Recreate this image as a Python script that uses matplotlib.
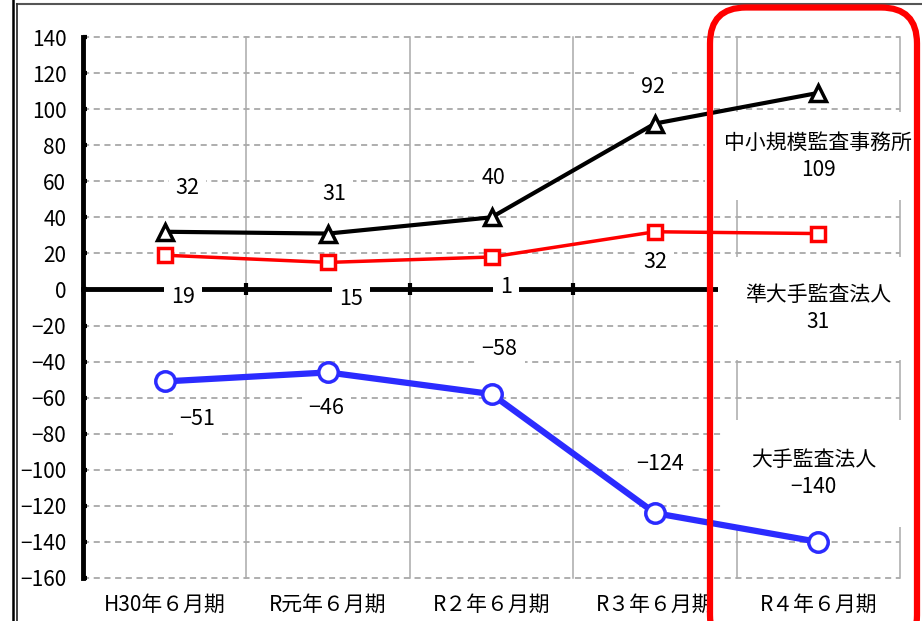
import matplotlib
matplotlib.use("Agg")
import matplotlib.pyplot as plt
from matplotlib.patches import FancyBboxPatch
from matplotlib.lines import Line2D

plt.rcParams['font.family'] = ['Noto Sans CJK JP', 'DejaVu Sans']

categories = ['H30年６月期', 'R元年６月期', 'R２年６月期', 'R３年６月期', 'R４年６月期']
small = [32, 31, 40, 92, 109]      # 中小規模監査事務所
mid = [19, 15, 18, 32, 31]         # 準大手監査法人
big = [-51, -46, -58, -124, -140]  # 大手監査法人
small_labels = ['32', '31', '40', '92']
mid_labels = ['19', '15', '1', '32']
big_labels = ['−51', '−46', '−58', '−124']
series_names = ['中小規模監査事務所', '準大手監査法人', '大手監査法人']
last_labels = ['109', '31', '−140']

fig = plt.figure(figsize=(9.22, 6.21), dpi=100)
ax = fig.add_axes([83/922, 43/621, 817/922, 541/621])

x = list(range(len(categories)))
ax.set_xlim(-0.5, len(categories) - 0.5)
ax.set_ylim(-160, 140)

# grid
for yv in range(-160, 141, 20):
    ax.axhline(yv, color='#999999', lw=1.1, ls=(0, (4, 3)), zorder=1, clip_on=False)
for xv in [0.5, 1.5, 2.5, 3.5, 4.5]:
    ax.axvline(xv, color='#aaaaaa', lw=1.1, zorder=1, clip_on=False)

# spines
for s in ['top', 'right']:
    ax.spines[s].set_visible(False)
ax.spines['left'].set_linewidth(3.5)
ax.spines['bottom'].set_position(('data', 0))
ax.spines['bottom'].set_linewidth(3.5)
ax.spines['bottom'].set_zorder(2)
ax.set_yticks(range(-160, 141, 20))
ax.tick_params(axis='y', direction='in', length=3, width=3, pad=12, labelsize=15)
ax.set_xticks([0.5, 1.5, 2.5, 3.5])
ax.set_xticklabels([])
ax.tick_params(axis='x', direction='inout', length=9, width=3)

for i, c in enumerate(categories):
    ax.text(i, -0.05, c, transform=ax.get_xaxis_transform(), ha='center', va='center', fontsize=15)

# lines
ax.plot(x, small, color='black', lw=3, marker='^', ms=11, mfc='white', mec='black', mew=2.5, zorder=5)
ax.plot(x, mid, color='red', lw=2.5, marker='s', ms=10, mfc='white', mec='red', mew=2.5, zorder=5)
ax.plot(x, big, color='#2b2bff', lw=4.5, marker='o', ms=14, mfc='white', mec='#2b2bff', mew=2.5, zorder=5)

box = dict(facecolor='white', edgecolor='none', pad=5)
small_pos = [(0.14, 24.5), (0.04, 22), (0.01, 22), (-0.01, 20)]
mid_pos = [(0.11, -23), (0.14, -20.5), (0.09, -16.4), (0.0, -16.5)]
big_pos = [(0.2, -21), (-0.01, -20), (0.05, 25), (0.03, 27)]
for vals, labs, pos in [(small, small_labels, small_pos), (mid, mid_labels, mid_pos), (big, big_labels, big_pos)]:
    for i, (lab, (dx, dy)) in enumerate(zip(labs, pos)):
        ax.text(i + dx, vals[i] + dy, lab, ha='center', va='center', fontsize=15.5, bbox=box, zorder=4)

# series names at the last period
name_pos = [(0.0, 74, 0.95), (0.0, -10.5, 1.3), (-0.03, -102, 1.4)]
for name, lab, (dx, yv, pad) in zip(series_names, last_labels, name_pos):
    ax.text(x[-1] + dx, yv, name + '\n' + lab, ha='center', va='center', fontsize=15,
            linespacing=1.3, zorder=4,
            bbox=dict(boxstyle='square,pad=%s' % pad, facecolor='white', edgecolor='none'))

# red highlight frame
fig.add_artist(FancyBboxPatch((7.10, -0.3), 2.07, 6.435,
                              boxstyle='round,pad=0,rounding_size=0.36',
                              transform=fig.dpi_scale_trans, fill=False,
                              edgecolor='red', lw=4.5, zorder=10))

# outer frame
fig.add_artist(Line2D([17/922, 1], [1 - 4/621, 1 - 4/621], color='#555555', lw=1.5, transform=fig.transFigure))
fig.add_artist(Line2D([13/922, 13/922], [0, 1], color='black', lw=1.8, transform=fig.transFigure))
fig.add_artist(Line2D([17/922, 17/922], [0, 1 - 4/621], color='#333333', lw=1.3, transform=fig.transFigure))

fig.savefig('out.png', dpi=100)
